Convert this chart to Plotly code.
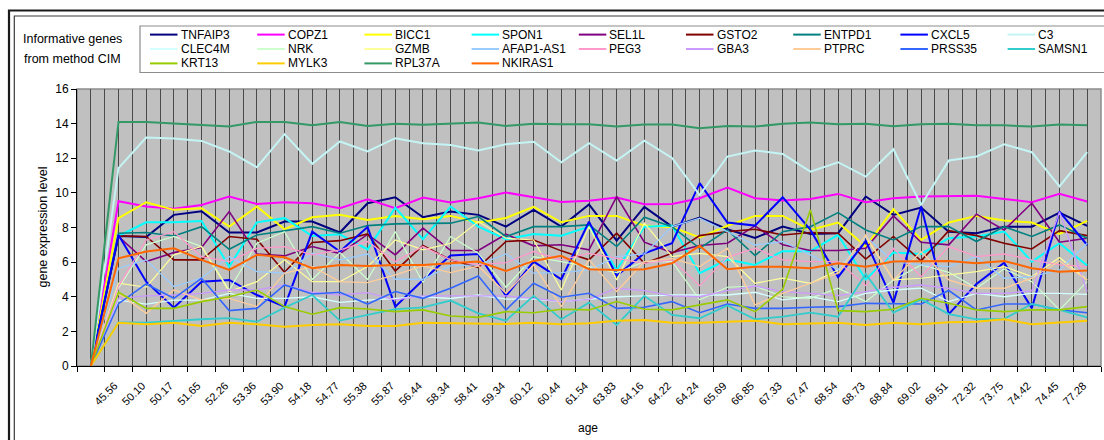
import plotly.graph_objects as go

# ---- data -------------------------------------------------------------
ages = ["", "45.56", "50.10", "50.17", "51.65", "52.26", "53.36", "53.90", "54.18",
        "54.77", "55.38", "55.87", "56.44", "58.34", "58.41", "59.34", "60.12",
        "60.44", "61.54", "63.83", "64.16", "64.22", "64.24", "65.69", "66.85",
        "67.33", "67.47", "68.54", "68.73", "68.84", "69.02", "69.51", "72.32",
        "73.75", "74.42", "74.45", "77.28"]

tnfaip3 = [0, 7.51, 7.45, 8.73, 8.94, 7.71, 7.71, 8.34, 8.34, 7.71, 9.40, 9.75, 8.59, 8.92, 8.73, 8.05, 9.02, 8.05, 9.33, 7.24, 9.19, 8.05, 8.57, 7.90, 7.40, 8.05, 7.63, 7.67, 9.79, 8.73, 9.15, 7.76, 7.67, 8.05, 8.05, 8.86, 8.09]
copz1 = [0, 9.52, 9.21, 9.09, 9.30, 9.79, 9.36, 9.46, 9.40, 9.11, 9.63, 9.11, 9.73, 9.44, 9.69, 10.02, 9.75, 9.48, 9.54, 9.73, 9.34, 9.36, 9.69, 10.30, 9.69, 9.56, 9.65, 9.94, 9.46, 9.69, 9.79, 9.79, 9.83, 9.65, 9.46, 9.94, 9.50]
bicc1 = [0, 8.54, 9.46, 9.02, 9.11, 8.05, 9.21, 7.90, 8.59, 8.73, 8.44, 8.67, 8.48, 8.67, 8.29, 8.55, 9.19, 8.30, 8.67, 8.67, 8.11, 8.02, 7.42, 8.10, 8.67, 8.67, 7.86, 8.29, 6.90, 9.06, 7.28, 8.29, 8.67, 8.40, 8.29, 7.63, 8.38]
spon1 = [0, 7.51, 8.30, 8.30, 8.38, 5.74, 8.30, 8.54, 7.51, 7.61, 6.74, 9.15, 7.32, 9.21, 8.05, 7.32, 7.63, 7.53, 8.05, 5.55, 8.05, 8.11, 5.36, 6.15, 5.84, 6.63, 6.63, 7.57, 5.00, 6.55, 6.47, 7.38, 7.48, 7.77, 6.03, 7.09, 5.80]
sel1l = [0, 7.48, 6.03, 6.55, 6.84, 8.92, 6.47, 6.36, 6.90, 6.49, 7.60, 6.42, 7.96, 6.67, 6.67, 7.61, 6.94, 7.00, 6.71, 9.79, 7.15, 6.55, 6.96, 7.09, 8.09, 7.00, 6.67, 6.67, 6.80, 8.67, 7.15, 7.00, 8.77, 7.86, 9.40, 7.15, 7.38]
gsto2 = [0, 7.51, 7.48, 6.13, 6.13, 7.48, 7.32, 5.41, 7.13, 7.24, 7.63, 5.49, 6.96, 6.13, 5.70, 7.19, 7.28, 6.65, 6.13, 7.67, 5.93, 6.51, 7.53, 7.76, 7.90, 7.57, 7.71, 7.67, 6.18, 7.48, 6.07, 7.82, 7.53, 7.09, 6.76, 7.82, 7.53]
entpd1 = [0, 7.67, 7.71, 7.51, 8.05, 6.74, 7.57, 7.82, 8.05, 7.67, 8.11, 8.21, 8.25, 8.25, 8.63, 7.48, 8.05, 8.05, 8.15, 6.90, 8.59, 8.05, 6.80, 7.86, 6.38, 7.76, 8.05, 8.86, 7.86, 7.28, 8.05, 8.05, 7.19, 8.05, 7.48, 8.15, 7.38]
cxcl5 = [0, 7.57, 4.87, 3.37, 4.87, 4.97, 4.10, 3.43, 7.76, 6.61, 8.03, 3.43, 4.97, 6.38, 6.47, 4.05, 6.03, 5.01, 8.34, 5.22, 6.51, 7.09, 10.56, 8.29, 8.11, 9.75, 7.86, 5.13, 7.23, 3.66, 9.21, 3.00, 4.74, 5.97, 3.33, 8.92, 6.99]
c3 = [0, 11.43, 13.20, 13.14, 13.00, 12.39, 11.48, 13.39, 11.68, 12.97, 12.39, 13.16, 12.87, 12.76, 12.45, 12.81, 12.95, 11.77, 12.87, 11.87, 13.02, 12.02, 9.87, 12.10, 12.45, 12.25, 11.23, 11.77, 10.94, 12.52, 9.30, 11.87, 12.10, 12.81, 12.35, 10.37, 12.35]
clec4m = [0, 3.80, 3.58, 3.81, 3.81, 4.20, 3.91, 3.91, 4.00, 3.68, 3.81, 3.90, 4.00, 3.90, 4.10, 3.86, 3.86, 3.72, 3.86, 4.00, 4.05, 4.10, 4.10, 4.10, 4.26, 3.82, 4.00, 3.72, 4.20, 4.39, 4.50, 3.72, 4.20, 4.00, 4.20, 4.20, 4.14]
nrk = [0, 4.50, 7.00, 7.48, 6.90, 4.39, 7.09, 7.76, 5.00, 6.55, 5.00, 7.76, 4.82, 7.48, 6.51, 4.55, 6.32, 6.03, 5.74, 5.39, 6.03, 6.03, 3.82, 4.55, 4.62, 4.00, 3.91, 4.49, 3.72, 4.97, 5.84, 5.41, 4.49, 5.61, 4.87, 3.24, 4.87]
gzmb = [0, 4.78, 4.55, 6.42, 6.90, 4.30, 4.87, 6.13, 4.87, 4.87, 5.74, 7.28, 6.71, 7.09, 8.34, 7.38, 7.28, 4.39, 8.05, 4.97, 8.25, 6.32, 6.51, 6.32, 4.78, 5.07, 4.78, 5.55, 7.48, 4.97, 5.07, 5.26, 5.45, 5.74, 5.16, 6.26, 4.97]
afap1_as1 = [0, 5.65, 6.13, 4.59, 5.07, 6.32, 5.45, 5.36, 6.51, 6.13, 6.47, 5.01, 5.01, 5.78, 5.84, 6.47, 5.36, 5.39, 5.55, 6.32, 6.47, 8.05, 8.54, 7.76, 6.99, 7.19, 6.42, 5.55, 7.48, 6.03, 5.84, 5.74, 6.32, 5.07, 5.16, 5.55, 7.09]
peg3 = [0, 4.60, 7.28, 7.76, 6.32, 6.03, 6.80, 6.90, 6.42, 6.71, 7.19, 6.03, 6.90, 6.13, 5.84, 5.97, 6.61, 6.13, 6.51, 6.22, 5.93, 6.13, 4.64, 6.28, 6.80, 6.13, 6.03, 6.03, 4.64, 6.80, 5.16, 6.90, 6.32, 6.47, 6.13, 5.84, 5.74]
gba3 = [0, 3.91, 4.05, 4.10, 4.20, 4.39, 4.39, 4.68, 4.26, 4.10, 4.24, 3.82, 4.05, 4.05, 4.05, 4.05, 3.91, 3.72, 3.85, 4.49, 4.36, 4.05, 4.00, 4.36, 4.62, 4.30, 4.20, 4.07, 4.30, 4.55, 4.68, 4.49, 4.20, 4.20, 4.34, 8.90, 4.30]
ptprc = [0, 4.20, 3.04, 4.39, 3.81, 3.91, 3.43, 5.36, 5.74, 4.87, 4.82, 5.26, 5.78, 5.39, 5.78, 4.20, 5.84, 3.43, 6.13, 4.30, 6.03, 6.22, 5.74, 6.80, 3.53, 4.20, 4.78, 5.36, 7.57, 4.97, 6.61, 4.97, 4.49, 4.49, 5.07, 6.07, 4.97]
prss35 = [0, 3.60, 4.74, 3.91, 5.07, 3.20, 3.33, 4.68, 4.16, 4.26, 3.58, 4.30, 3.91, 4.49, 5.20, 3.24, 4.78, 3.97, 4.20, 3.33, 3.39, 3.72, 3.08, 3.58, 3.33, 3.33, 3.39, 3.43, 3.62, 3.58, 3.58, 4.36, 3.24, 3.58, 3.58, 3.24, 3.08]
samsn1 = [0, 2.52, 2.50, 2.62, 2.70, 2.76, 2.56, 3.37, 4.10, 2.62, 2.95, 3.28, 3.39, 3.78, 3.04, 2.62, 4.05, 2.70, 3.66, 2.37, 4.05, 2.95, 2.76, 3.50, 2.70, 2.85, 3.08, 2.85, 5.32, 3.08, 3.85, 3.00, 2.70, 2.72, 3.58, 3.24, 2.81]
krt13 = [0, 4.26, 3.33, 3.33, 3.72, 4.00, 4.39, 3.43, 2.99, 3.37, 3.29, 3.14, 3.24, 2.89, 2.81, 3.14, 3.08, 3.28, 3.24, 3.72, 3.28, 3.24, 3.53, 3.82, 3.14, 4.43, 9.02, 3.20, 3.14, 3.28, 3.91, 3.62, 3.24, 3.14, 3.24, 3.24, 3.43]
mylk3 = [0, 2.50, 2.41, 2.50, 2.31, 2.50, 2.41, 2.27, 2.37, 2.41, 2.31, 2.31, 2.50, 2.47, 2.43, 2.43, 2.50, 2.41, 2.47, 2.62, 2.66, 2.50, 2.50, 2.56, 2.62, 2.41, 2.47, 2.50, 2.37, 2.50, 2.41, 2.52, 2.56, 2.70, 2.41, 2.52, 2.62]
rpl37a = [0, 14.10, 14.10, 14.00, 13.90, 13.83, 14.10, 14.10, 13.90, 14.10, 13.87, 14.00, 13.93, 14.00, 14.07, 13.87, 14.00, 13.97, 13.97, 13.83, 13.95, 13.95, 13.74, 13.87, 13.83, 13.99, 14.07, 13.97, 14.00, 13.85, 13.97, 14.00, 13.90, 13.90, 13.83, 13.95, 13.90]
nkiras1 = [0, 6.22, 6.61, 6.80, 6.13, 5.55, 6.42, 6.28, 5.65, 5.84, 5.78, 5.84, 5.84, 5.93, 6.03, 5.49, 6.07, 6.36, 5.59, 5.55, 5.59, 5.93, 6.94, 5.59, 5.74, 5.74, 5.65, 5.93, 5.74, 6.03, 6.03, 6.07, 5.93, 6.07, 5.65, 5.45, 5.51]

gene_names = ["TNFAIP3", "COPZ1", "BICC1", "SPON1", "SEL1L", "GSTO2", "ENTPD1", "CXCL5", "C3",
              "CLEC4M", "NRK", "GZMB", "AFAP1-AS1", "PEG3", "GBA3", "PTPRC", "PRSS35", "SAMSN1",
              "KRT13", "MYLK3", "RPL37A", "NKIRAS1"]
gene_values = [tnfaip3, copz1, bicc1, spon1, sel1l, gsto2, entpd1, cxcl5, c3,
               clec4m, nrk, gzmb, afap1_as1, peg3, gba3, ptprc, prss35, samsn1,
               krt13, mylk3, rpl37a, nkiras1]
gene_colors = ["#000080", "#FF00FF", "#FFFF00", "#00FFFF", "#800080", "#800000", "#008080", "#0000FF", "#C4F4F4",
               "#D4FFFF", "#CCFFCC", "#FFFF99", "#99CCFF", "#FF99CC", "#CC99FF", "#FFCC99", "#3366FF", "#33CCCC",
               "#99CC00", "#FFCC00", "#339966", "#FF6600"]
gene_widths = [2, 2, 2, 2, 1.6, 1.6, 1.6, 2, 2,
               1.3, 1.2, 1.2, 1.3, 1.3, 1.3, 1.3, 1.6, 1.8,
               1.6, 2, 2, 2]

# ---- geometry (pixels) --------------------------------------------------
W, H = 1104, 440
ML, MR, MT, MB = 77, 3, 89, 74
PW, PH = W - ML - MR, H - MT - MB
FONT = "Arial, Liberation Sans, sans-serif"


def fx(px):
    return (px - ML) / PW


def fy(py):
    return (H - MB - py) / PH


fig = go.Figure()
xs = list(range(len(ages)))
for name, vals, col, wd in zip(gene_names, gene_values, gene_colors, gene_widths):
    fig.add_trace(go.Scatter(x=xs, y=vals, mode="lines", name=name,
                             line=dict(color=col, width=wd), showlegend=False))

shapes = []
annotations = []

# outer double frame of the chart area
shapes.append(dict(type="rect", xref="paper", yref="paper", x0=fx(9), x1=fx(1130), y0=fy(470), y1=fy(10.5),
                   line=dict(color="#1a1a1a", width=2.2), layer="above"))
shapes.append(dict(type="rect", xref="paper", yref="paper", x0=fx(14.3), x1=fx(1125), y0=fy(465), y1=fy(16),
                   line=dict(color="#3a3a3a", width=1.2), layer="above"))

# plot-area frame (top and right edges)
shapes.append(dict(type="rect", xref="paper", yref="paper", x0=0, x1=1, y0=0, y1=1,
                   line=dict(color="#8c8c8c", width=1.5), layer="below"))

# legend box
shapes.append(dict(type="rect", xref="paper", yref="paper", x0=fx(140), x1=fx(1150), y0=fy(72.5), y1=fy(26),
                   line=dict(color="#8c8c8c", width=1.2), layer="above"))

col_step = 107.2
row_y = [34.6, 49.0, 63.4]
for i, (name, col) in enumerate(zip(gene_names, gene_colors)):
    r, c = divmod(i, 9)
    x0 = 150 + c * col_step
    yy = row_y[r]
    shapes.append(dict(type="line", xref="paper", yref="paper", x0=fx(x0), x1=fx(x0 + 27.5),
                       y0=fy(yy), y1=fy(yy), line=dict(color=col, width=2), layer="above"))
    annotations.append(dict(text=name, xref="paper", yref="paper", x=fx(x0 + 28.5), y=fy(yy),
                            xanchor="left", yanchor="middle", showarrow=False,
                            font=dict(family=FONT, size=12, color="black")))

# side caption
annotations.append(dict(text="Informative genes", xref="paper", yref="paper", x=fx(72), y=fy(39.5),
                        xanchor="center", yanchor="middle", showarrow=False,
                        font=dict(family=FONT, size=12.5, color="black")))
annotations.append(dict(text="from method CIM", xref="paper", yref="paper", x=fx(72), y=fy(58.5),
                        xanchor="center", yanchor="middle", showarrow=False,
                        font=dict(family=FONT, size=12.5, color="black")))

# axis titles
annotations.append(dict(text="gene expression level", xref="paper", yref="paper", x=fx(42), y=0.5,
                        xanchor="center", yanchor="middle", textangle=-90, showarrow=False,
                        font=dict(family=FONT, size=12.5, color="black")))
annotations.append(dict(text="age", xref="paper", yref="paper", x=fx(588), y=fy(428),
                        xanchor="center", yanchor="middle", showarrow=False,
                        font=dict(family=FONT, size=12, color="black")))

grid_col = "#4a4a4a"
fig.update_layout(
    width=W, height=H,
    margin=dict(l=ML, r=MR, t=MT, b=MB, pad=0),
    paper_bgcolor="white",
    plot_bgcolor="#C0C0C0",
    showlegend=False,
    shapes=shapes,
    annotations=annotations,
    xaxis=dict(
        range=[-0.5, len(ages) - 0.5],
        tickmode="array", tickvals=xs, ticktext=ages,
        tickangle=-45, tickfont=dict(family=FONT, size=11, color="black"),
        ticklabelstandoff=8, ticklabelshift=-4,
        ticks="", showgrid=True, gridcolor=grid_col, gridwidth=1,
        showline=True, linecolor="black", linewidth=1, zeroline=False,
        minor=dict(tickmode="array", tickvals=[i - 0.5 for i in range(len(ages) + 1)],
                   ticks="outside", ticklen=5, tickcolor="black", tickwidth=1,
                   showgrid=True, gridcolor=grid_col, gridwidth=1),
        fixedrange=True,
    ),
    yaxis=dict(
        range=[0, 16], tickmode="linear", tick0=0, dtick=2,
        ticks="outside", ticklen=5, tickcolor="black",
        tickfont=dict(family=FONT, size=12, color="black"),
        showgrid=False, showline=True, linecolor="black", linewidth=1, zeroline=False,
        fixedrange=True,
    ),
)

fig.write_html("out.html", config={"displayModeBar": False})
